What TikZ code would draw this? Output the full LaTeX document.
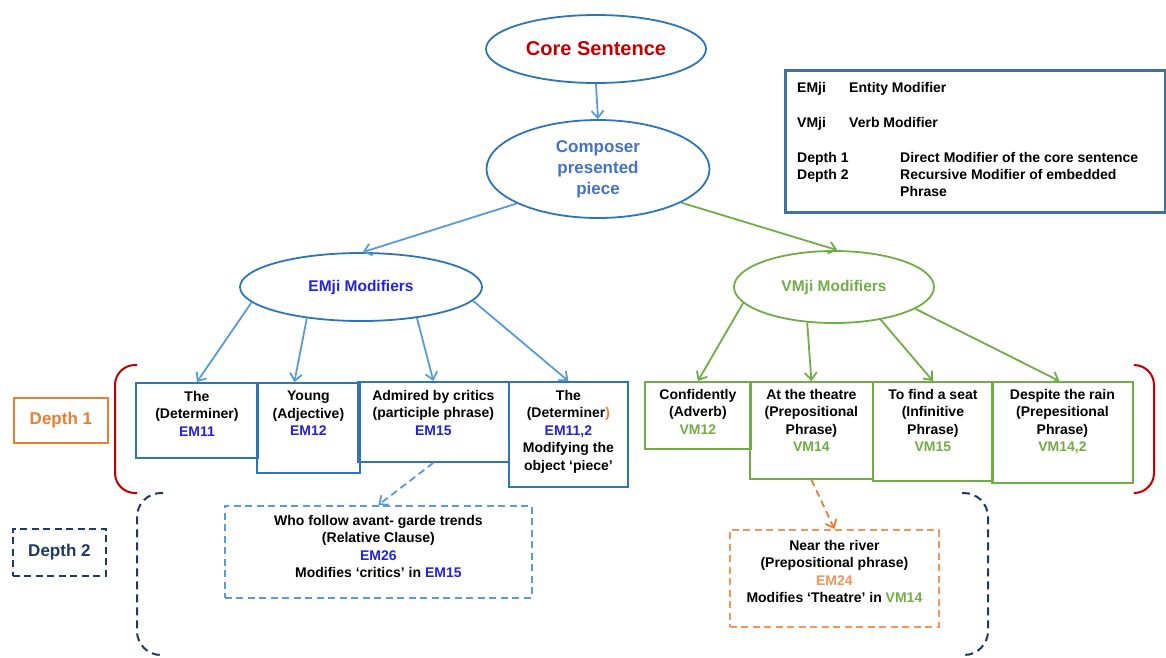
\documentclass[tikz,border=0pt]{standalone}
\usepackage{fontspec}
\setmainfont{Liberation Sans}
\usetikzlibrary{shapes.geometric,arrows.meta,calc}
\definecolor{emblue}{RGB}{35,35,215}
\definecolor{vmgreen}{RGB}{112,173,71}
\definecolor{boxblue}{RGB}{46,117,182}
\definecolor{arrblue}{RGB}{91,155,213}
\definecolor{corered}{RGB}{192,0,0}
\definecolor{compblue}{RGB}{68,114,196}
\definecolor{orng}{RGB}{237,125,49}
\definecolor{lorng}{RGB}{240,150,90}
\definecolor{navyc}{RGB}{32,56,100}
\definecolor{legblue}{RGB}{65,113,156}
\newcommand{\EM}[1]{\textcolor{emblue}{#1}}
\newcommand{\VM}[1]{\textcolor{vmgreen}{#1}}
\tikzset{
  ell/.style={ellipse, draw=boxblue, line width=1.8pt, inner sep=0pt, align=center},
  bbox/.style={rectangle, draw=boxblue, line width=1.8pt, inner sep=0pt, anchor=north west},
  gbox/.style={rectangle, draw=vmgreen, line width=1.8pt, inner sep=0pt, anchor=north west},
  txt/.style={font=\bfseries\fontsize{14}{17.5}\selectfont, align=center, inner sep=0pt, anchor=north},
  legt/.style={font=\bfseries\fontsize{14}{16}\selectfont, inner sep=0pt, anchor=base west},
  barrow/.style={draw=arrblue, line width=1.8pt, -{Straight Barb[length=7pt,width=12pt]}},
  garrow/.style={draw=vmgreen, line width=1.8pt, -{Straight Barb[length=7pt,width=12pt]}},
  dsh/.style={dash pattern=on 7pt off 4.5pt},
}
\begin{document}
\begin{tikzpicture}[x=1pt,y=-1pt]
\useasboundingbox[fill=white] (0,0) rectangle (1166,657);

% ellipses
\node[ell, minimum width=220pt, minimum height=68pt, text=corered,
  font=\bfseries\fontsize{20}{22}\selectfont] (core) at (596,49) {Core Sentence};
\node[ell, minimum width=223pt, minimum height=98pt, text=compblue,
  font=\bfseries\fontsize{17}{21}\selectfont] (comp) at (598,169) {Composer\\presented\\piece};
\node[ell, minimum width=242pt, minimum height=68pt, text=emblue,
  font=\bfseries\fontsize{15.5}{17}\selectfont] (em) at (361,287) {EMji Modifiers};
\node[ell, draw=vmgreen, minimum width=200pt, minimum height=72pt, text=vmgreen,
  font=\bfseries\fontsize{15.5}{17}\selectfont] (vm) at (834,287) {VMji Modifiers};

% legend
\node[rectangle, draw=legblue, line width=2.5pt, inner sep=0pt, anchor=north west,
  minimum width=380pt, minimum height=142pt] (leg) at (784,69) {};
\node[legt] (l1a) at (797,92) {EMji};
\node[legt] (l1b) at (849,92) {Entity Modifier};
\node[legt] (l2a) at (797,127) {VMji};
\node[legt] (l2b) at (849,127) {Verb Modifier};
\node[legt] (l3a) at (797,162) {Depth 1};
\node[legt] (l3b) at (900,162) {Direct Modifier of the core sentence};
\node[legt] (l4a) at (797,179) {Depth 2};
\node[legt] (l4b) at (900,179) {Recursive Modifier of embedded};
\node[legt] (l4c) at (900,196) {Phrase};

% depth labels
\node[rectangle, draw=orng, line width=1.8pt, anchor=north west, inner sep=0pt,
  minimum width=94pt, minimum height=45pt] (d1) at (13,397) {};
\node[font=\bfseries\fontsize{17}{19}\selectfont, text=orng] (d1t) at (d1.center) {Depth 1};
\node[rectangle, draw=navyc, line width=1.8pt, dsh, anchor=north west, inner sep=0pt,
  minimum width=93pt, minimum height=47pt] (d2) at (12,528) {};
\node[font=\bfseries\fontsize{17}{19}\selectfont, text=navyc] (d2t) at (d2.center) {Depth 2};

% red brackets
\draw[corered, line width=2pt, rounded corners=20pt] (137,365) -- (115,365) -- (115,493) -- (137,493);
\draw[corered, line width=2pt, rounded corners=20pt] (1135,365) -- (1154,365) -- (1154,493) -- (1135,493);
% navy dashed brackets
\draw[navyc, line width=2pt, dash pattern=on 8pt off 5pt, rounded corners=24pt] (163,493) -- (137,493) -- (137,655) -- (163,655);
\draw[navyc, line width=2pt, dash pattern=on 8pt off 5pt, rounded corners=24pt] (962,493) -- (988,493) -- (988,655) -- (962,655);

% depth 1 boxes (EM)
\node[bbox, minimum width=122pt, minimum height=75pt] (b1) at (135,382) {};
\node[bbox, minimum width=103pt, minimum height=90pt] (b2) at (256,382) {};
\node[bbox, minimum width=151pt, minimum height=80pt] (b3) at (357,381) {};
\node[bbox, minimum width=119pt, minimum height=105pt] (b4) at (508,381) {};
\node[txt] (b1t) at ($(b1.north)+(0,9)$) {The\\(Determiner)\\\EM{EM11}};
\node[txt] (b2t) at ($(b2.north)+(0,9)$) {Young\\(Adjective)\\\EM{EM12}};
\node[txt] (b3t) at ($(b3.north)+(0,9)$) {Admired by critics\\(participle phrase)\\\EM{EM15}};
\node[txt] (b4t) at ($(b4.north)+(0,9)$) {The\\(Determiner\textcolor{orng}{)}\\\EM{EM11,2}\\Modifying the\\object ‘piece’};

% depth 1 boxes (VM)
\node[gbox, minimum width=106pt, minimum height=67pt] (b5) at (644,381) {};
\node[gbox, minimum width=123pt, minimum height=97pt] (b6) at (749,381) {};
\node[gbox, minimum width=120pt, minimum height=99pt] (b7) at (872,381) {};
\node[gbox, minimum width=141pt, minimum height=101pt] (b8) at (991,381) {};
\node[txt] (b5t) at ($(b5.north)+(0,8)$) {Confidently\\(Adverb)\\\VM{VM12}};
\node[txt] (b6t) at ($(b6.north)+(0,8)$) {At the theatre\\(Prepositional\\Phrase)\\\VM{VM14}};
\node[txt] (b7t) at ($(b7.north)+(0,8)$) {To find a seat\\(Infinitive\\Phrase)\\\VM{VM15}};
\node[txt] (b8t) at ($(b8.north)+(0,8)$) {Despite the rain\\(Prepesitional\\Phrase)\\\VM{VM14,2}};

% depth 2 boxes
\node[rectangle, draw=arrblue, line width=1.8pt, dsh, anchor=north west, inner sep=0pt,
  minimum width=307pt, minimum height=92pt] (rel) at (224,505) {};
\node[txt] (relt) at ($(rel.north)+(0,10)$) {Who follow avant- garde trends\\(Relative Clause)\\\EM{EM26}\\Modifies ‘critics’ in \EM{EM15}};
\node[rectangle, draw=lorng, line width=1.8pt, dsh, anchor=north west, inner sep=0pt,
  minimum width=209pt, minimum height=97pt] (prp) at (729,529) {};
\node[txt] (prpt) at ($(prp.north)+(0,11)$) {Near the river\\(Prepositional phrase)\\\textcolor{lorng}{EM24}\\Modifies ‘Theatre’ in \VM{VM14}};

% connectors
\draw[barrow] (core.south) -- (comp.north);
\draw[barrow] (comp.203) -- (em.87);
\draw[garrow] (comp.338) -- (vm.85);
\draw[barrow] (em.188) -- (b1.north);
\draw[barrow] (em.210) -- ([xshift=-14pt]b2.north);
\draw[barrow] (em.331) -- (b3.north);
\draw[barrow] (em.353) -- (b4.north);
\draw[garrow] (vm.190) -- (b5.north);
\draw[garrow] (vm.233) -- (b6.north);
\draw[garrow] (vm.325) -- (b7.north);
\draw[garrow] (vm.345) -- ([xshift=-3pt]b8.north);
\draw[barrow, dsh] (b3.south) -- (rel.north);
\draw[draw=orng, line width=1.8pt, dsh, -{Straight Barb[length=7pt,width=12pt]}] (b6.south) -- (prp.north);
\end{tikzpicture}
\end{document}
